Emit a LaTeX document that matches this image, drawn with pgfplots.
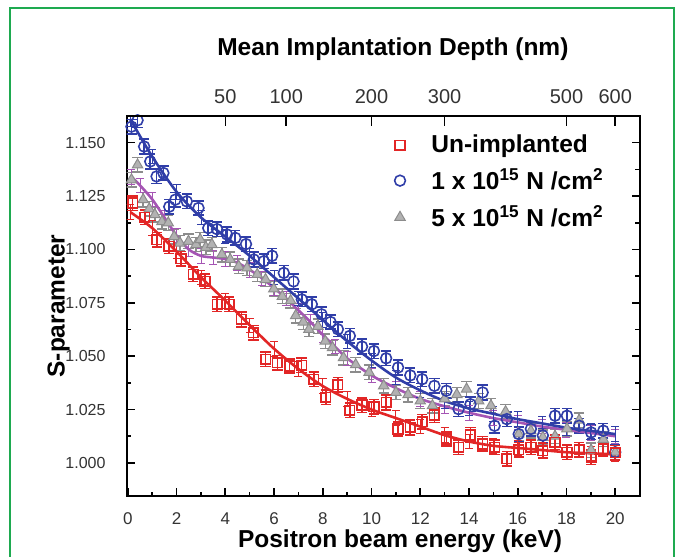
\documentclass[border=0pt]{standalone}
\usepackage{fontspec}
\setmainfont{Liberation Sans}
\usepackage{pgfplots}
\pgfplotsset{compat=1.18}
\definecolor{dred}{RGB}{226,38,38}
\definecolor{dblue}{RGB}{48,62,168}
\definecolor{lpurp}{RGB}{165,85,180}
\definecolor{tgray}{RGB}{178,178,178}
\definecolor{tgrayd}{RGB}{140,140,140}
\definecolor{frame}{RGB}{30,170,80}

\begin{document}
\begin{tikzpicture}[x=1pt,y=1pt]
\useasboundingbox (-63.3,-30.5) rectangle (277.2,248);
\draw[frame,line width=1pt] (-58.3,-32) -- (-58.3,244) -- (273.7,244) -- (273.7,-32);

% main axis: energy scale
\begin{axis}[at={(0,0)},anchor=south west,
  scale only axis,width=256.5pt,height=190pt,
  xmin=-0.05,xmax=21.0,ymin=0.9845,ymax=1.1625,
  /pgf/number format/assume math mode=true,
  axis line style={line width=1pt},
  every tick/.style={black,line width=0.8pt},
  tick align=inside,major tick length=4pt,minor tick length=2.2pt,
  xtick={0,2,...,20},minor x tick num=1,xtick pos=bottom,
  ytick={1.000,1.025,1.050,1.075,1.100,1.125,1.150},minor y tick num=1,
  ytick pos=both,yticklabel pos=left,
  yticklabel style={/pgf/number format/fixed,/pgf/number format/fixed zerofill,
    /pgf/number format/precision=3,font=\fontsize{8}{9}\selectfont,text=black!80,xshift=-7pt},
  xticklabel style={font=\fontsize{8.5}{10}\selectfont,text=black!80,yshift=-5pt},
  xlabel={Positron beam energy (keV)},
  xlabel style={at={(axis description cs:0.533,0)},anchor=base,yshift=-26pt,
    font=\fontsize{12.25}{14}\selectfont\bfseries},
  ylabel={S-parameter},
  ylabel style={at={(axis description cs:0,0.5)},anchor=center,yshift=34pt,
    font=\fontsize{12.25}{14}\selectfont\bfseries},
  legend style={draw=none,fill=none,at={(axis description cs:0.51,0.972)},anchor=north west,
    font=\fontsize{12.25}{14}\selectfont\bfseries,row sep=2.5pt,column sep=11pt},
  legend cell align=left,reverse legend,
  error bars/y dir=both,error bars/y fixed=0.0034,
]

% 5 x 10^15 (gray triangles)
\addplot[only marks,mark=triangle*,mark size=3pt,
  mark options={fill=tgray,draw=tgrayd,line width=0.5pt},
  error bars/error bar style={tgrayd,line width=0.7pt},
  error bars/error mark options={tgrayd,rotate=90,mark size=2.6pt,line width=0.7pt}]
coordinates {
(0.15,1.1326)(0.40,1.1396)(0.63,1.1233)(0.88,1.1190)(1.11,1.1163)(1.40,1.1130)
(1.66,1.1124)(1.90,1.1060)(2.14,1.1030)(2.49,1.1038)(2.80,1.1023)(2.97,1.1046)
(3.20,1.1010)(3.45,1.1023)(3.86,1.0976)(4.20,1.0953)(4.55,1.0921)(4.89,1.0913)
(5.31,1.0883)(5.65,1.0859)(5.99,1.0815)(6.34,1.0780)(6.68,1.0760)(6.89,1.0690)
(7.20,1.0660)(7.43,1.0625)(7.80,1.0640)(8.10,1.0570)(8.40,1.0540)(8.85,1.0493)
(9.35,1.0460)(9.90,1.0424)(10.50,1.0361)(11.00,1.0330)(11.50,1.0320)(12.00,1.0290)
(12.50,1.0268)(13.00,1.0300)(13.50,1.0320)(13.90,1.0346)(14.40,1.0290)(14.90,1.0268)
(15.50,1.0240)(16.04,1.0136)(16.54,1.0150)(17.03,1.0120)(17.53,1.0125)(18.02,1.0160)
(18.52,1.0200)(19.01,1.0060)(19.51,1.0110)(20.00,1.0050)
};
\addlegendentry{5 x 10\textsuperscript{15} N /cm\textsuperscript{2}}

% 1 x 10^15 (blue circles)
\addplot[only marks,mark=o,mark size=2.7pt,
  mark options={dblue,line width=0.8pt},
  error bars/error bar style={dblue,line width=0.8pt},
  error bars/error mark options={dblue,rotate=90,mark size=2.6pt,line width=0.8pt}]
coordinates {
(0.15,1.1575)(0.40,1.1605)(0.67,1.1482)(0.92,1.1412)(1.18,1.1342)(1.46,1.1358)
(1.70,1.1200)(1.95,1.1233)(2.42,1.1225)(2.90,1.1194)(3.30,1.1100)(3.66,1.1095)
(4.07,1.1070)(4.41,1.1054)(4.85,1.1025)(5.17,1.0953)(5.58,1.0945)(5.92,1.0970)
(6.40,1.0890)(6.80,1.0850)(7.14,1.0766)(7.55,1.0743)(7.95,1.0696)(8.32,1.0660)
(8.62,1.0626)(9.11,1.0595)(9.61,1.0545)(10.10,1.0524)(10.60,1.0490)(11.09,1.0447)
(11.59,1.0410)(12.08,1.0392)(12.58,1.0361)(13.07,1.0338)(13.57,1.0252)(14.06,1.0275)
(14.56,1.0330)(15.05,1.0174)(15.55,1.0205)(16.04,1.0135)(16.54,1.0159)(17.03,1.0128)
(17.53,1.0221)(18.02,1.0221)(18.52,1.0174)(19.01,1.0143)(19.51,1.0151)(20.00,1.0050)
};
\addlegendentry{1 x 10\textsuperscript{15} N /cm\textsuperscript{2}}

% un-implanted (red squares)
\addplot[only marks,mark=square,mark size=2.4pt,
  mark options={dred,line width=0.8pt},
  error bars/error bar style={dred,line width=0.8pt},
  error bars/error mark options={dred,rotate=90,mark size=2.6pt,line width=0.8pt}]
coordinates {
(0.20,1.1217)(0.70,1.1150)(1.19,1.1046)(1.69,1.1015)(2.18,1.0956)(2.68,1.0883)
(3.17,1.0851)(3.67,1.0743)(4.16,1.0743)(4.66,1.0672)(5.15,1.0610)(5.65,1.0486)
(6.14,1.0470)(6.64,1.0454)(7.13,1.0458)(7.63,1.0392)(8.12,1.0307)(8.62,1.0366)
(9.11,1.0247)(9.61,1.0271)(10.10,1.0263)(10.60,1.0283)(11.09,1.0159)(11.59,1.0166)
(12.08,1.0193)(12.58,1.0224)(13.07,1.0112)(13.57,1.0073)(14.06,1.0131)(14.56,1.0089)
(15.05,1.0073)(15.55,1.0019)(16.04,1.0062)(16.54,1.0073)(17.03,1.0057)(17.53,1.0097)
(18.02,1.0050)(18.52,1.0062)(19.01,1.0027)(19.51,1.0065)(20.00,1.0047)
};
\addlegendentry{Un-implanted}

% fitted curves
\addplot[lpurp,line width=1.3pt,smooth,forget plot] coordinates {
(0.15,1.1340)(0.5,1.1300)(1,1.1235)(1.5,1.1150)(2,1.1065)(2.5,1.1000)(3,1.0970)
(3.5,1.0962)(4,1.0955)(4.5,1.0937)(5,1.0905)(5.5,1.0865)(6,1.0820)(6.5,1.0770)
(7,1.0715)(7.5,1.0660)(8,1.0600)(8.5,1.0545)(9,1.0490)(10,1.0410)(11,1.0350)
(12,1.0300)(13,1.0265)(14,1.0235)(15,1.0210)(16,1.0190)(17,1.0170)(18,1.0155)
(19,1.0140)(20,1.0125)};
\addplot[dblue,line width=1.3pt,smooth,forget plot] coordinates {
(0.1,1.1610)(1,1.1435)(2,1.1270)(3,1.1150)(4,1.1060)(5,1.0970)(6,1.0870)
(7,1.0770)(8,1.0670)(9,1.0570)(10,1.0480)(11,1.0400)(12,1.0340)(13,1.0290)
(14,1.0255)(15,1.0230)(16,1.0205)(17,1.0185)(18,1.0165)(19,1.0150)(20,1.0135)};
\addplot[dred,line width=1.3pt,smooth,forget plot] coordinates {
(0.1,1.1175)(1,1.1100)(2,1.0990)(3,1.0870)(4,1.0760)(5,1.0645)(6,1.0535)
(7,1.0440)(8,1.0360)(9,1.0300)(10,1.0250)(11,1.0210)(12,1.0170)(13,1.0130)
(14,1.0100)(15,1.0080)(16,1.0070)(17,1.0060)(18,1.0050)(19,1.0045)(20,1.0040)};
\end{axis}

% top axis: mean implantation depth
\begin{axis}[at={(0,0)},anchor=south west,
  scale only axis,width=256.5pt,height=190pt,
  xmin=-0.05,xmax=21.0,ymin=0,ymax=1,
  /pgf/number format/assume math mode=true,
  axis x line*=top,axis y line=none,
  axis line style={line width=1pt},
  every tick/.style={black,line width=0.8pt},
  tick align=inside,major tick length=5pt,
  xtick={4,6.5,10,13,18,20},xticklabels={50,100,200,300,500,600},
  xticklabel style={font=\fontsize{10}{12}\selectfont,text=black!80,yshift=2.5pt},
  xlabel={Mean Implantation Depth (nm)},
  xlabel style={at={(axis description cs:0.519,1)},anchor=base,yshift=30pt,
    font=\fontsize{12.25}{14}\selectfont\bfseries},
]
\addplot[draw=none] coordinates {(0,0)};
\end{axis}
\end{tikzpicture}
\end{document}
